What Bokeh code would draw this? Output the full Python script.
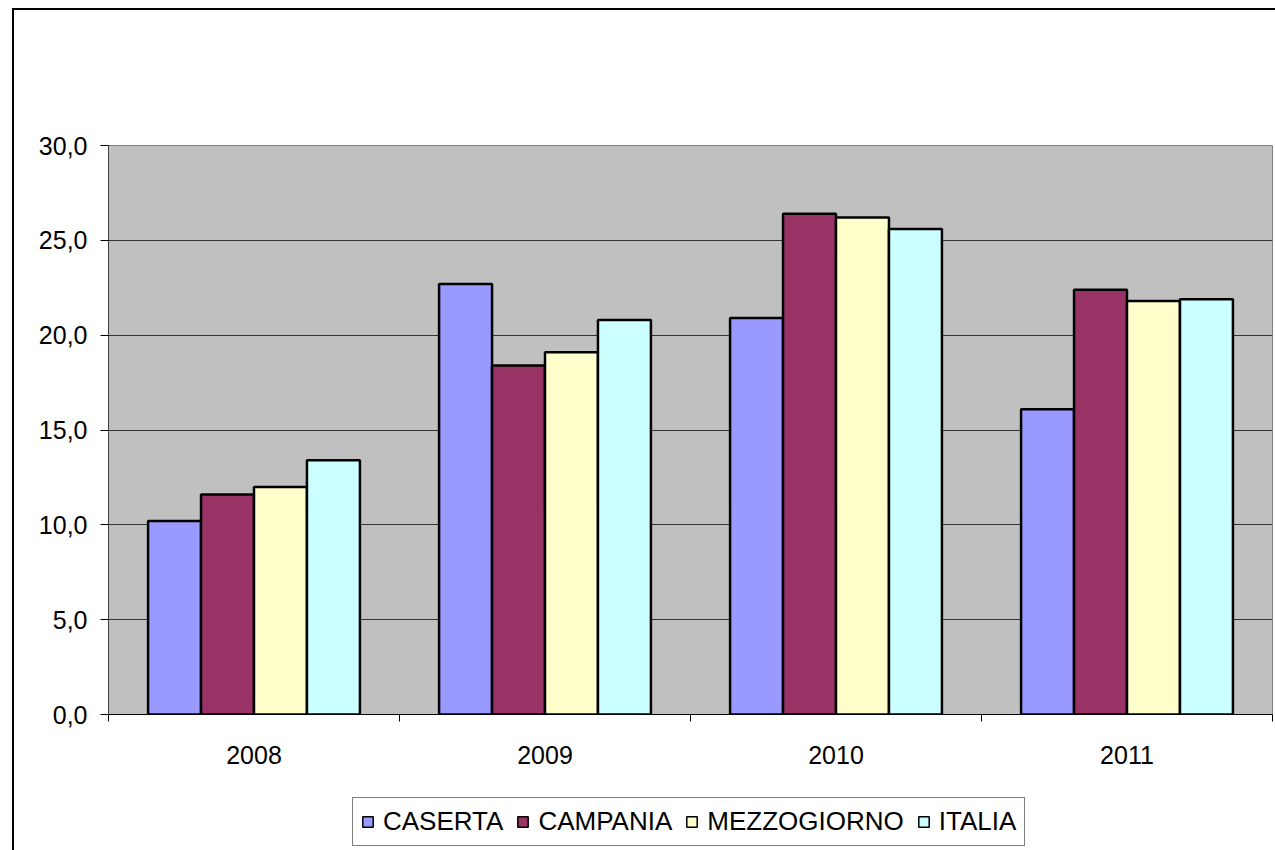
import numpy as np
from bokeh.plotting import figure
from bokeh.layouts import column
from bokeh.models import (ColumnDataSource, Range1d, FixedTicker, Legend, LegendItem,
                          InlineStyleSheet)
from bokeh.embed import file_html
from bokeh.resources import INLINE

categories = ["2008", "2009", "2010", "2011"]
series_names = ["CASERTA", "CAMPANIA", "MEZZOGIORNO", "ITALIA"]
caserta = [10.2, 22.7, 20.9, 16.1]
campania = [11.6, 18.4, 26.4, 22.4]
mezzogiorno = [12.0, 19.1, 26.2, 21.8]
italia = [13.4, 20.8, 25.6, 21.9]
y_ticks = [0, 5, 10, 15, 20, 25, 30]

colors = ["#9999FF", "#993366", "#FFFFCC", "#CCFFFF"]
series_values = [caserta, campania, mezzogiorno, italia]

FONT = "Liberation Sans"

p = figure(width=1275, height=775, output_backend="svg", toolbar_location=None,
           x_range=Range1d(0, 4), y_range=Range1d(0, 30),
           min_border_left=108, min_border_right=3, min_border_top=145,
           min_border_bottom=61)
p.background_fill_color = "#C0C0C0"
p.border_fill_color = "white"
p.outline_line_color = "#808080"
p.outline_line_width = 1

bar_w = 0.182
offsets = [-1.5 * bar_w, -0.5 * bar_w, 0.5 * bar_w, 1.5 * bar_w]
for name, vals, col, off in zip(series_names, series_values, colors, offsets):
    xs = [i + 0.5 + off for i in range(len(categories))]
    src = ColumnDataSource(dict(x=xs, top=vals))
    p.vbar(x="x", top="top", bottom=0, width=bar_w, source=src,
           fill_color=col, line_color="black", line_width=2.5)

# axes
p.xaxis.ticker = FixedTicker(ticks=[i + 0.5 for i in range(len(categories))],
                             minor_ticks=list(range(len(categories) + 1)))
p.xaxis.major_label_overrides = {i + 0.5: c for i, c in enumerate(categories)}
p.xaxis.major_tick_line_color = None
p.xaxis.major_tick_out = 0
p.xaxis.minor_tick_out = 7
p.xaxis.minor_tick_in = 0
p.xaxis.minor_tick_line_color = "black"
p.xaxis.axis_line_color = "black"
p.xaxis.major_label_text_font = FONT
p.xaxis.major_label_text_font_size = "25px"
p.xaxis.major_label_text_color = "black"
p.xaxis.major_label_standoff = 24

p.yaxis.ticker = FixedTicker(ticks=y_ticks)
p.yaxis.major_label_overrides = {t: f"{t:.1f}".replace(".", ",") for t in y_ticks}
p.yaxis.major_tick_out = 8
p.yaxis.major_tick_in = 0
p.yaxis.minor_tick_line_color = None
p.yaxis.axis_line_color = "#404040"
p.yaxis.major_tick_line_color = "black"
p.yaxis.major_label_text_font = FONT
p.yaxis.major_label_text_font_size = "25px"
p.yaxis.major_label_text_color = "black"
p.yaxis.major_label_standoff = 13

p.xgrid.grid_line_color = None
p.ygrid.grid_line_color = "#333333"
p.ygrid.grid_line_width = 1

# legend strip
lg = figure(width=1275, height=75, output_backend="svg", toolbar_location=None,
            x_range=Range1d(0, 1), y_range=Range1d(0, 1),
            min_border_left=0, min_border_right=0, min_border_top=0, min_border_bottom=0)
lg.axis.visible = False
lg.grid.visible = False
lg.outline_line_color = None
lg.background_fill_color = "white"
lg.border_fill_color = "white"
items = []
for name, col in zip(series_names, colors):
    # swatch-only renderer: NaN height, so only its legend glyph is drawn
    src = ColumnDataSource(dict(x=np.array([0.5]), top=np.array([np.nan])))
    r = lg.vbar(x="x", top="top", bottom=0, width=0.01, source=src,
                fill_color=col, line_color="black", line_width=1.5)
    items.append(LegendItem(label=name, renderers=[r]))

legend = Legend(items=items, orientation="horizontal", location=(244, 4))
legend.label_text_font = FONT
legend.label_text_font_size = "26px"
legend.label_text_color = "black"
legend.glyph_width = 13
legend.glyph_height = 13
legend.label_standoff = 9
legend.spacing = 13
legend.padding = 8
legend.margin = 0
legend.border_line_color = "black"
legend.border_line_width = 1
legend.background_fill_color = "white"
lg.add_layout(legend, "center")

layout = column(p, lg, spacing=0)
layout.stylesheets = [InlineStyleSheet(css="""
:host::after {
  content: '';
  position: absolute;
  left: 12px; top: 8px; right: -40px; bottom: -40px;
  border-left: 2px solid black; border-top: 2px solid black;
  pointer-events: none;
  z-index: 10;
}
""")]

open("out.html", "w").write(file_html(layout, INLINE))
